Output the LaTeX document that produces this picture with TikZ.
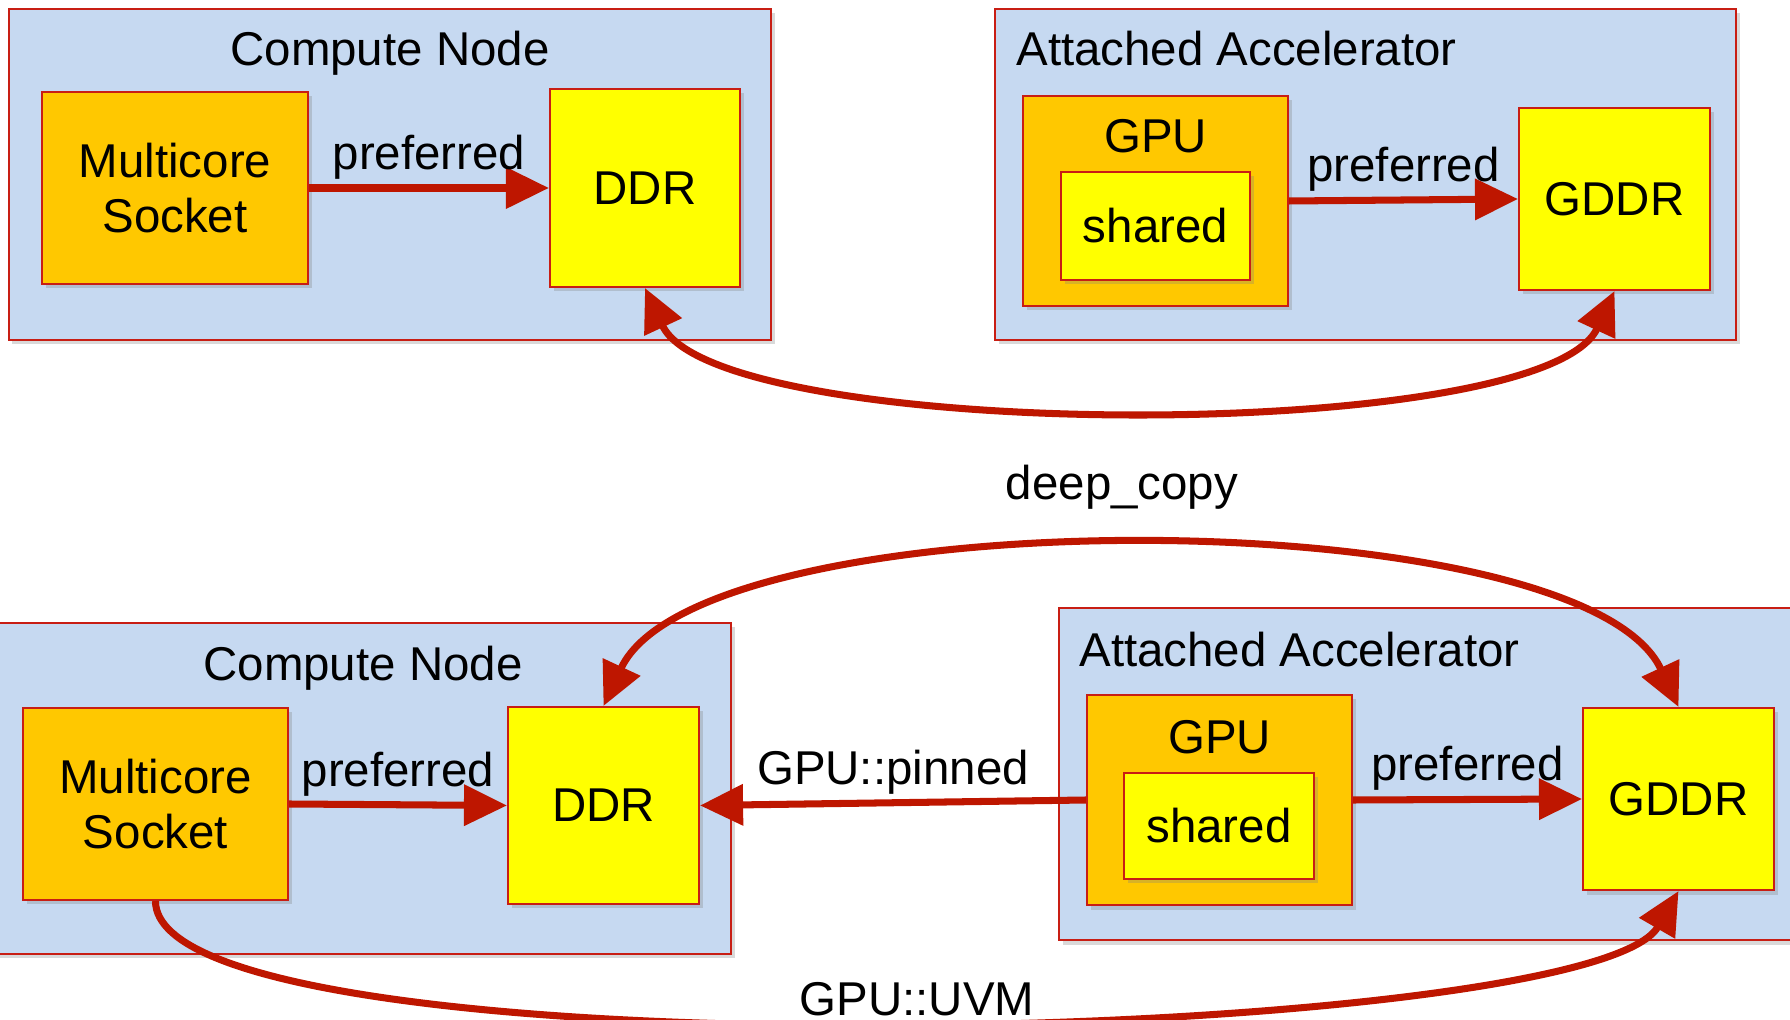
\documentclass[tikz,border=0pt]{standalone}
\usepackage{fontspec}
\setmainfont{Liberation Sans}
\usepackage{tikz}
\usetikzlibrary{arrows.meta,shadows}

\definecolor{areablue}{RGB}{198,217,241}
\definecolor{boxred}{RGB}{200,30,20}
\definecolor{flowred}{RGB}{190,22,0}
\definecolor{coreorange}{RGB}{255,200,0}
\definecolor{memyellow}{RGB}{255,255,0}

\tikzset{
  box/.style={draw=boxred, line width=0.6pt, inner sep=0pt, align=center,
    drop shadow={shadow xshift=0.035cm, shadow yshift=-0.045cm, opacity=0.3}},
  area/.style={box, fill=areablue},
  core/.style={box, fill=coreorange},
  mem/.style={box, fill=memyellow},
  flow/.style={draw=flowred, line width=2pt},
  flowlabel/.style={inner sep=1.5pt}
}

\begin{document}
\begin{tikzpicture}[font=\fontsize{13.5}{15.5}\selectfont,
  >={Triangle[length=0.43cm,width=0.40cm]}]
  \clip (0,0) rectangle (17.9,-10.2);

  % upper half: separate memories, explicit copy
  \node[area, minimum width=7.62cm, minimum height=3.31cm] (cnA) at (3.90,-1.745) {};
  \node[anchor=base] (cnAtitle) at ([yshift=-0.58cm]cnA.north) {Compute Node};
  \node[core, minimum width=2.66cm, minimum height=1.92cm] (sockA) at (1.75,-1.88) {Multicore\\Socket};
  \node[mem, minimum width=1.90cm, minimum height=1.98cm] (ddrA) at (6.45,-1.88) {DDR};

  \node[area, minimum width=7.41cm, minimum height=3.31cm] (aaA) at (13.655,-1.745) {};
  \node[anchor=base west] (aaAtitle) at ([xshift=0.10cm,yshift=-0.58cm]aaA.north west) {Attached Accelerator};
  \node[core, minimum width=2.65cm, minimum height=2.10cm] (gpuA) at (11.555,-2.01) {};
  \node[anchor=base] (gpuAtitle) at ([yshift=-0.58cm]gpuA.north) {GPU};
  \node[mem, minimum width=1.89cm, minimum height=1.08cm] (shA) at (11.555,-2.26) {shared};
  \node[mem, minimum width=1.91cm, minimum height=1.82cm] (gddrA) at (16.145,-1.99) {GDDR};

  \draw[flow,->] (sockA.east) -- (ddrA.west) node[flowlabel, midway, above] (prefA) {preferred};
  \draw[flow,->] (gpuA.east) -- (gddrA.west) node[flowlabel, midway, above] (prefB) {preferred};
  \draw[flow,<->] (ddrA.south) to[out=-65,in=-115,looseness=0.45] (gddrA.south);

  \node[anchor=base] (dcopy) at (11.22,-5.00) {deep\_copy};

  % lower half: pinned and unified memory
  \node[area, minimum width=7.36cm, minimum height=3.31cm] (cnB) at (3.63,-7.885) {};
  \node[anchor=base] (cnBtitle) at ([yshift=-0.59cm]cnB.north) {Compute Node};
  \node[core, minimum width=2.65cm, minimum height=1.92cm] (sockB) at (1.555,-8.04) {Multicore\\Socket};
  \node[mem, minimum width=1.91cm, minimum height=1.97cm] (ddrB) at (6.035,-8.055) {DDR};

  \node[area, minimum width=7.51cm, minimum height=3.32cm] (aaB) at (14.345,-7.74) {};
  \node[anchor=base west] (aaBtitle) at ([xshift=0.09cm,yshift=-0.60cm]aaB.north west) {Attached Accelerator};
  \node[core, minimum width=2.65cm, minimum height=2.10cm] (gpuB) at (12.195,-8.00) {};
  \node[anchor=base] (gpuBtitle) at ([yshift=-0.60cm]gpuB.north) {GPU};
  \node[mem, minimum width=1.90cm, minimum height=1.06cm] (shB) at (12.19,-8.26) {shared};
  \node[mem, minimum width=1.91cm, minimum height=1.82cm] (gddrB) at (16.785,-7.99) {GDDR};

  \draw[flow,->] (sockB.east) -- (ddrB.west) node[flowlabel, midway, above] (prefC) {preferred};
  \draw[flow,->] (gpuB.east) -- (gddrB.west) node[flowlabel, midway, above] (prefD) {preferred};
  \draw[flow,->] (gpuB.west) -- (ddrB.east) node[flowlabel, midway, above] (pinned) {GPU::pinned};
  \draw[flow,<->] (ddrB.north) to[out=65,in=115,looseness=0.55] (gddrB.north);
  \draw[flow,->] (sockB.south) to[out=-90,in=-120,looseness=0.3] (gddrB.south);

  \node[anchor=base] (uvm) at (9.17,-10.15) {GPU::UVM};
\end{tikzpicture}
\end{document}
